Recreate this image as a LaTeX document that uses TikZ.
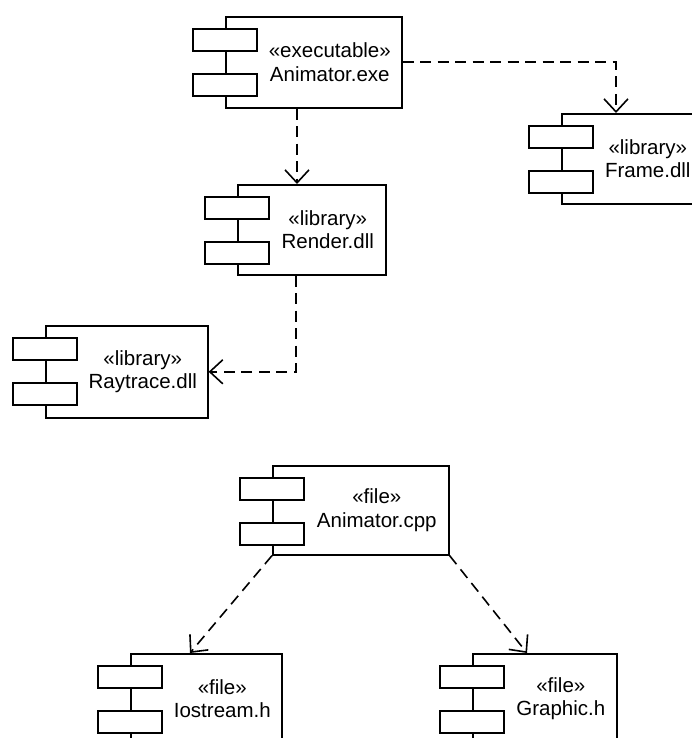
\documentclass[tikz,border=0pt]{standalone}
\usepackage{fontspec}
\setmainfont{Liberation Sans}
\usetikzlibrary{arrows.meta,calc}

\tikzset{
  compbox/.style={draw, line width=1.6pt, fill=white, inner sep=0pt},
  part/.style={draw, line width=1.6pt, fill=white, inner sep=0pt,
    minimum width=64pt, minimum height=22pt},
  complabel/.style={align=center, inner sep=0pt,
    font=\fontsize{20.5}{23.5}\selectfont},
  dep/.style={line width=1.6pt, dash pattern=on 11pt off 6.5pt,
    -{Straight Barb[length=13pt,width=24pt,line width=1.6pt]}},
}

% #1 name, #2 left, #3 top, #4 width, #5 height, #6 label text
\newcommand\umlcomp[6]{%
  \node[compbox, minimum width=#4pt, minimum height=#5pt, anchor=north west]
    (#1) at (#2,#3) {};
  \node[part, anchor=north] (#1-p1) at ([yshift=-12pt]#1.north west) {};
  \node[part, anchor=north] (#1-p2) at ([yshift=-57pt]#1.north west) {};
  \node[complabel] (#1-txt) at ($(#1.center)+(16pt,0)$) {#6};
}

\begin{document}
\begin{tikzpicture}[x=1pt, y=-1pt]
  \useasboundingbox (0,0) rectangle (692,738);
  \clip (0,0) rectangle (692,738);

  % components
  \umlcomp{exe}{225}{16}{176}{91}{«executable»\\Animator.exe}
  \umlcomp{frame}{561}{113}{140}{90}{«library»\\Frame.dll}
  \umlcomp{render}{237}{184}{148}{90}{«library»\\Render.dll}
  \umlcomp{ray}{45}{325}{162}{92}{«library»\\Raytrace.dll}
  \umlcomp{cpp}{272}{465}{176}{89}{«file»\\Animator.cpp}
  \umlcomp{io}{130}{653}{151}{90}{«file»\\Iostream.h}
  \umlcomp{gr}{472}{653}{144}{90}{«file»\\Graphic.h}

  % dependencies
  \draw[dep] (exe.east) -| ([xshift=55pt]frame.north west);
  \draw[dep] ([xshift=72pt]exe.south west) -- ([xshift=72pt]exe.south west |- render.north);
  \draw[dep] ([xshift=59pt]render.south west) |- (ray.east);
  \draw[dep] (cpp.south west) -- ([xshift=60pt]io.north west);
  \draw[dep] (cpp.south east) -- ([xshift=55pt]gr.north west);
\end{tikzpicture}
\end{document}
